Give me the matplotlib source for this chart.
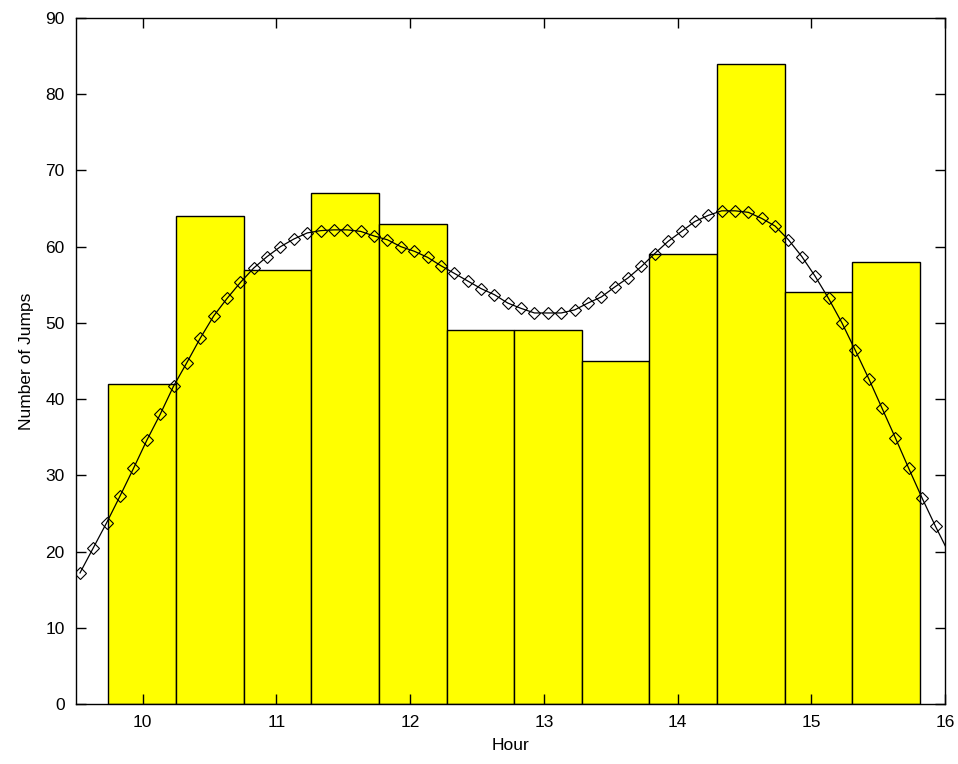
import numpy as np
import matplotlib.pyplot as plt

# histogram of jumps per hour bin
counts = [42, 64, 57, 67, 63, 49, 49, 45, 59, 84, 54, 58]
hist_min = 9.741
hist_max = 15.815

# smoothed fit curve (sampled every 0.1 h)
fit_x = [round(9.53 + 0.1 * k, 2) for k in range(66)]
fit_y = [17.2, 20.5, 23.8, 27.3, 30.9, 34.6, 38.0, 41.7, 44.8, 48.0,
         50.9, 53.2, 55.3, 57.2, 58.7, 60.0, 61.0, 61.8, 62.1, 62.2,
         62.2, 62.0, 61.4, 60.9, 60.0, 59.4, 58.6, 57.5, 56.5, 55.5,
         54.5, 53.7, 52.6, 51.9, 51.3, 51.3, 51.3, 51.7, 52.6, 53.4,
         54.7, 55.9, 57.4, 59.1, 60.7, 62.0, 63.3, 64.1, 64.7, 64.7,
         64.5, 63.7, 62.7, 60.9, 58.7, 56.1, 53.2, 50.0, 46.4, 42.7,
         38.8, 34.9, 30.9, 27.0, 23.3, 19.8]

xticks = [10, 11, 12, 13, 14, 15, 16]
yticks = list(range(0, 100, 10))

plt.rcParams['font.family'] = ['Liberation Sans', 'DejaVu Sans']

fig = plt.figure(figsize=(9.58, 7.64), dpi=100)
ax = fig.add_axes([0.0793, 0.0785, 0.907, 0.898])

edges = np.linspace(hist_min, hist_max, len(counts) + 1)
ax.bar(edges[:-1], counts, width=np.diff(edges), align='edge',
       color='#ffff00', edgecolor='black', linewidth=1.0)

ax.plot(fit_x, fit_y, color='black', linewidth=0.9, marker='D',
        markersize=6, markerfacecolor='none', markeredgecolor='black',
        markeredgewidth=0.8, markevery=range(len(fit_x) - 1))

ax.set_xlim(9.5, 16)
ax.set_ylim(0, 90)
ax.set_xticks(xticks)
ax.set_yticks(yticks)
ax.tick_params(direction='in', length=7, width=1, top=True, right=True,
               labelsize=12.5, pad=8)
for s in ax.spines.values():
    s.set_linewidth(1.0)

ax.set_xlabel('Hour', fontsize=12.5, labelpad=6)
ax.set_ylabel('Number of Jumps', fontsize=12.5, labelpad=8)

fig.savefig('out.png', dpi=100)
